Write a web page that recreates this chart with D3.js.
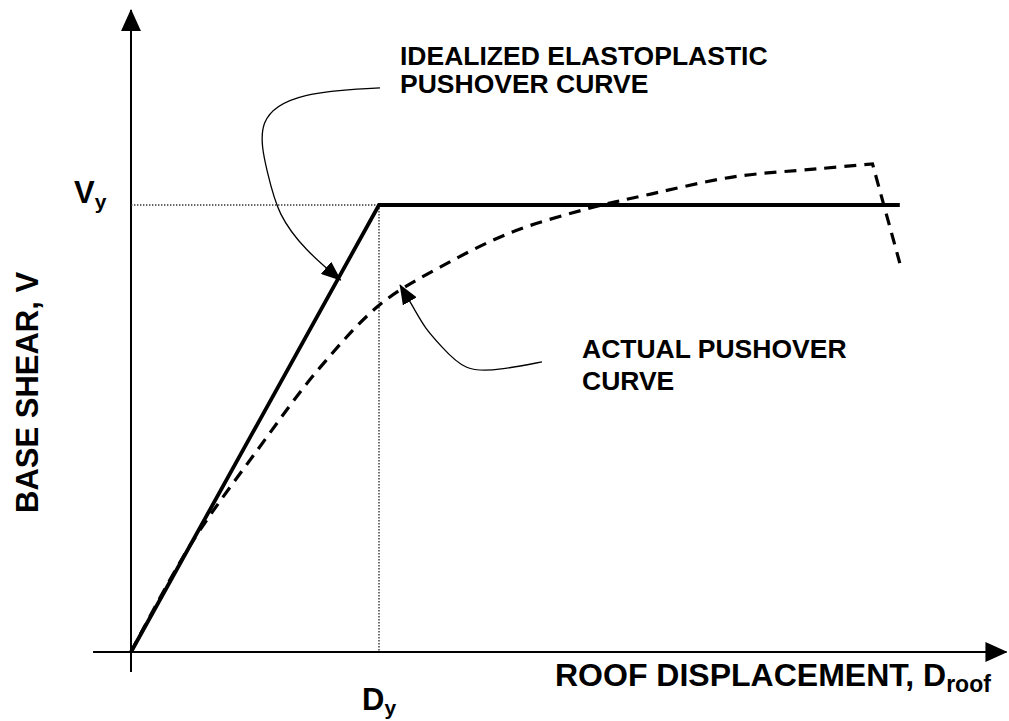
<!DOCTYPE html>
<html>
<head>
<meta charset="utf-8">
<script src="https://cdn.jsdelivr.net/npm/d3@7"></script>
<style>
  html, body { margin: 0; padding: 0; background: #fff; }
  svg { display: block; }
  text { font-family: "Liberation Sans", Arial, sans-serif; font-weight: bold; fill: #000; }
</style>
</head>
<body>
<svg id="chart" width="1009" height="721"></svg>
<script>
// Displacement normalised by yield displacement Dy, shear by yield shear Vy
const idealized = [[0, 0], [1, 1], [3.10, 1]];
const actualRise = [[0, 0], [0.24, 0.24], [0.51, 0.452], [0.76, 0.635], [1.01, 0.78], [1.25, 0.862],
                    [1.53, 0.938], [1.83, 0.99], [2.10, 1.025], [2.43, 1.063], [2.77, 1.081], [2.99, 1.092]];
const actualDrop = [[2.99, 1.092], [3.10, 0.87]];
const yieldPoint = [1, 1];

// Leader lines for the two callouts (data units)
const leaderIdealized = [[1.004, 1.262], [0.681, 1.253], [0.50, 1.195], [0.552, 1.067],
                         [0.593, 0.978], [0.702, 0.899], [0.845, 0.832]];
const leaderActual = [[1.657, 0.649], [1.488, 0.631], [1.347, 0.626], [1.246, 0.687],
                      [1.185, 0.725], [1.145, 0.765], [1.085, 0.821]];

const xDomainAxis = [-0.153, 3.53];
const yDomainAxis = [-0.045, 1.436];

const svg = d3.select("#chart");
const x = d3.scaleLinear().domain([0, 1]).range([131, 379]);
const y = d3.scaleLinear().domain([0, 1]).range([652, 205]);

const defs = svg.append("defs");
defs.append("marker")
  .attr("id", "axisHead").attr("viewBox", "0 0 22 20")
  .attr("refX", 21).attr("refY", 10)
  .attr("markerWidth", 22).attr("markerHeight", 20)
  .attr("markerUnits", "userSpaceOnUse").attr("orient", "auto")
  .append("path").attr("d", "M0,0 L22,10 L0,20 Z").attr("fill", "#000");
defs.append("marker")
  .attr("id", "leaderHead").attr("viewBox", "0 0 20 16")
  .attr("refX", 19).attr("refY", 8)
  .attr("markerWidth", 20).attr("markerHeight", 16)
  .attr("markerUnits", "userSpaceOnUse").attr("orient", "auto")
  .append("path").attr("d", "M0,0 L20,8 L0,16 Z").attr("fill", "#000");

// Axes
svg.append("line")
  .attr("x1", x(0)).attr("y1", y(yDomainAxis[0]))
  .attr("x2", x(0)).attr("y2", y(yDomainAxis[1]))
  .attr("stroke", "#000").attr("stroke-width", 2)
  .attr("marker-end", "url(#axisHead)");
svg.append("line")
  .attr("x1", x(xDomainAxis[0])).attr("y1", y(0))
  .attr("x2", x(xDomainAxis[1])).attr("y2", y(0))
  .attr("stroke", "#000").attr("stroke-width", 2)
  .attr("marker-end", "url(#axisHead)");

// Yield reference lines
svg.append("line")
  .attr("x1", x(0)).attr("y1", y(yieldPoint[1]))
  .attr("x2", x(yieldPoint[0])).attr("y2", y(yieldPoint[1]))
  .attr("stroke", "#333").attr("stroke-width", 1.4).attr("stroke-dasharray", "1.4,1.6");
svg.append("line")
  .attr("x1", x(yieldPoint[0])).attr("y1", y(yieldPoint[1]))
  .attr("x2", x(yieldPoint[0])).attr("y2", y(0))
  .attr("stroke", "#333").attr("stroke-width", 1.4).attr("stroke-dasharray", "1.4,1.6");

const lin = d3.line().x(d => x(d[0])).y(d => y(d[1]));
const smooth = d3.line().x(d => x(d[0])).y(d => y(d[1])).curve(d3.curveCatmullRom.alpha(0.5));
const leader = d3.line().x(d => x(d[0])).y(d => y(d[1])).curve(d3.curveBasis);

// Actual pushover curve (dashed)
svg.append("path").attr("d", smooth(actualRise) + lin(actualDrop).replace(/^M/, "L"))
  .attr("fill", "none").attr("stroke", "#000").attr("stroke-width", 3.2)
  .attr("stroke-dasharray", "12,8").attr("stroke-linejoin", "miter");

// Idealized elastoplastic curve
svg.append("path").attr("d", lin(idealized))
  .attr("fill", "none").attr("stroke", "#000").attr("stroke-width", 3.8)
  .attr("stroke-linejoin", "miter");

// Callout leaders
svg.append("path").attr("d", leader(leaderIdealized))
  .attr("fill", "none").attr("stroke", "#000").attr("stroke-width", 1.3)
  .attr("marker-end", "url(#leaderHead)");
svg.append("path").attr("d", leader(leaderActual))
  .attr("fill", "none").attr("stroke", "#000").attr("stroke-width", 1.3)
  .attr("marker-end", "url(#leaderHead)");

// Callout text
const callIdeal = svg.append("text").attr("font-size", 26.5);
callIdeal.append("tspan").attr("x", 400).attr("y", 65).text("IDEALIZED ELASTOPLASTIC");
callIdeal.append("tspan").attr("x", 400).attr("y", 93).text("PUSHOVER CURVE");
const callActual = svg.append("text").attr("font-size", 26.5);
callActual.append("tspan").attr("x", 582).attr("y", 358).text("ACTUAL PUSHOVER");
callActual.append("tspan").attr("x", 582).attr("y", 390).text("CURVE");

// Yield labels
const vy = svg.append("text").attr("x", 74).attr("y", 203).attr("font-size", 31);
vy.append("tspan").text("V");
vy.append("tspan").attr("font-size", 21).attr("dy", 6).text("y");
const dy = svg.append("text").attr("x", 362).attr("y", 710).attr("font-size", 31);
dy.append("tspan").text("D");
dy.append("tspan").attr("font-size", 21).attr("dy", 5).text("y");

// Axis titles
const xt = svg.append("text").attr("x", 555).attr("y", 686).attr("font-size", 32);
xt.append("tspan").text("ROOF DISPLACEMENT, D");
xt.append("tspan").attr("font-size", 23).attr("dy", 6).text("roof");
svg.append("text").attr("font-size", 31)
  .attr("transform", "translate(38,513) rotate(-90)")
  .text("BASE SHEAR, V");
</script>
</body>
</html>
